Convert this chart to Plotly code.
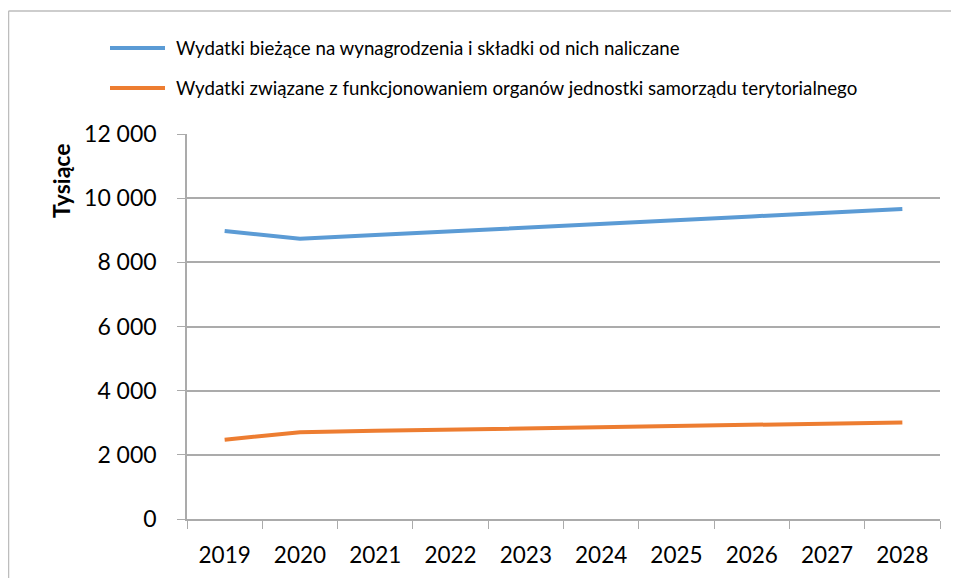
import plotly.graph_objects as go

# Data (values in thousands)
years = ["2019", "2020", "2021", "2022", "2023", "2024", "2025", "2026", "2027", "2028"]
wynagrodzenia = [8975, 8735, 8850, 8960, 9080, 9200, 9310, 9430, 9545, 9660]
organy = [2470, 2705, 2750, 2785, 2820, 2865, 2895, 2935, 2970, 3010]
series_names = [
    "Wydatki bieżące na wynagrodzenia i składki od nich naliczane",
    "Wydatki związane z funkcjonowaniem organów jednostki samorządu terytorialnego",
]
series_colors = ["#5B9BD5", "#ED7D31"]
y_ticks = [0, 2000, 4000, 6000, 8000, 10000, 12000]
y_tick_text = ["0", "2 000", "4 000", "6 000", "8 000", "10 000", "12 000"]

OFF = 8  # page offset of the plot div
W, H = 959 - OFF, 578 - OFF
L, T = 187 - OFF, 134 - OFF
PW, PH = 753, 385
R, B = W - L - PW, H - T - PH
FONT = "Lato"
GRID = "#ababab"


def px_x(x):
    # screen pixel x -> paper x
    return (x - OFF - L) / PW


def px_y(y):
    # screen pixel y -> paper y
    return (T + PH - (y - OFF)) / PH


fig = go.Figure()
for name, vals, color in zip(series_names, [wynagrodzenia, organy], series_colors):
    fig.add_trace(go.Scatter(x=years, y=vals, name=name, mode="lines",
                             line=dict(color=color, width=4), showlegend=False))

shapes = []
annotations = []

# Legend drawn by hand to get the longer line samples
for i, (name, color) in enumerate(zip(series_names, series_colors)):
    yy = 48 + 40 * i
    shapes.append(dict(type="line", xref="paper", yref="paper",
                       x0=px_x(110), x1=px_x(165), y0=px_y(yy), y1=px_y(yy),
                       line=dict(color=color, width=4)))
    annotations.append(dict(text=name, xref="paper", yref="paper",
                            x=px_x(174), y=px_y(yy), xanchor="left", yanchor="middle",
                            showarrow=False, font=dict(family=FONT, size=18.7, color="#000")))

# Y axis title sits near the top, as in the original
annotations.append(dict(text="<b>Tysiące</b>", xref="paper", yref="paper",
                        x=px_x(61), y=px_y(181), textangle=-90, showarrow=False,
                        xanchor="center", yanchor="middle",
                        font=dict(family=FONT, size=23, color="#000")))

# Outer chart border (only top and left edges are visible)
shapes.append(dict(type="line", xref="paper", yref="paper",
                   x0=px_x(8.5), x1=px_x(990), y0=px_y(11), y1=px_y(11),
                   line=dict(color="#bdbdbd", width=1.5)))
shapes.append(dict(type="line", xref="paper", yref="paper",
                   x0=px_x(8.5), x1=px_x(8.5), y0=px_y(11), y1=px_y(620),
                   line=dict(color="#bdbdbd", width=1.5)))

fig.update_layout(
    width=W, height=H,
    margin=dict(l=L, r=R, t=T, b=B, autoexpand=False),
    paper_bgcolor="white", plot_bgcolor="white",
    font=dict(family=FONT, color="#000"),
    shapes=shapes, annotations=annotations,
    showlegend=False,
)

fig.update_xaxes(type="category", range=[-0.5, len(years) - 0.5],
                 tickson="boundaries", ticks="outside", automargin=False,
                 ticklen=8, tickcolor=GRID, showline=True, linecolor=GRID,
                 linewidth=1.5, showgrid=False, tickfont=dict(size=22.5),
                 ticklabelstandoff=15)
fig.update_yaxes(range=[0, 12000], tickvals=y_ticks, ticktext=y_tick_text,
                 ticks="outside", ticklen=8, tickcolor=GRID, showline=True,
                 linecolor=GRID, linewidth=1.5, gridcolor=GRID, gridwidth=1.5,
                 zeroline=False, tickfont=dict(size=23), ticklabelstandoff=16,
                 automargin=False)

# hide the page scrollbars caused by the body margin
fig.write_html(
    "out.html",
    post_script="document.documentElement.style.overflow='hidden';"
                "document.body.style.overflow='hidden';",
)
